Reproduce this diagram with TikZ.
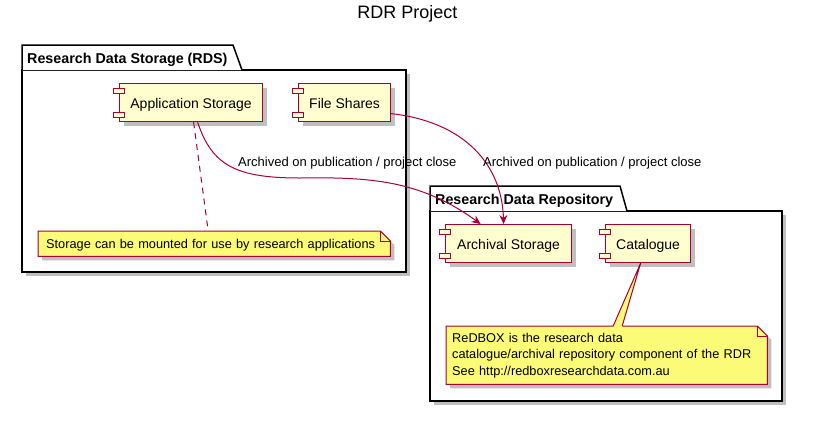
\documentclass[tikz,border=0pt]{standalone}
\usepackage{fontspec}
\setmainfont{Liberation Sans}
\usetikzlibrary{arrows.meta,shadows}
\definecolor{compfill}{HTML}{FEFECE}
\definecolor{umlred}{HTML}{A80036}
\definecolor{notefill}{HTML}{FBFB77}
\pgfdeclarelayer{pkglayer}
\pgfdeclarelayer{notelayer}
\pgfsetlayers{pkglayer,notelayer,main}
\begin{document}
\begin{tikzpicture}[x=1pt,y=-1pt,
  shd/.style={drop shadow={shadow xshift=4pt,shadow yshift=-4pt,opacity=.25,fill=black}},
  comp/.style={draw=umlred, fill=compfill, line width=1.2pt, minimum height=38pt,
    inner sep=0pt, text height=12pt, text depth=0pt,
    font=\fontsize{14}{16}\selectfont, anchor=north west, shd},
  tabrect/.style={draw=umlred, fill=compfill, line width=1pt},
  pkg/.style={draw=black, line width=1.5pt, fill=white},
  pkgtitle/.style={font=\bfseries\fontsize{14.3}{16}\selectfont, anchor=base west, inner sep=0pt},
  note/.style={anchor=north west, inner ysep=0pt, align=left, font=\fontsize{12.75}{16.5}\selectfont},
  noteshape/.style={draw=umlred, fill=notefill, line width=1pt},
  link/.style={draw=umlred, line width=1pt},
  arr/.style={link, -{Stealth[length=9pt,width=8pt,inset=3pt]}},
  lbl/.style={font=\fontsize{13}{15}\selectfont, anchor=base west, inner sep=0pt},
]
\useasboundingbox (0,0) rectangle (816,426);

% title
\node[font=\fontsize{18}{20}\selectfont, inner sep=0pt, anchor=base] (title) at (407.5,18) {RDR Project};

% package titles
\node[pkgtitle] (rdsT) at (27,63) {Research Data Storage (RDS)};
\node[pkgtitle] (rdrT) at (435,204) {Research Data Repository};

% components
\node[comp, minimum width=143pt] (app) at (119,83) {Application Storage};
\node[comp, minimum width=92pt] (fs) at (298,83) {File Shares};
\node[comp, minimum width=126pt] (arch) at (445,224) {Archival Storage};
\node[comp, minimum width=85pt] (cat) at (605,224) {Catalogue};
\foreach \n in {app,fs,arch,cat}{
  \draw[tabrect] ([shift={(-6,5)}]\n.north west) rectangle ++(11,5);
  \draw[tabrect] ([shift={(-6,-10)}]\n.south west) rectangle ++(11,5);
}

% notes
\node[note, text width=336pt, inner xsep=8pt, minimum height=25pt, text height=9.5pt, text depth=0pt] (n1) at (38,231)
  {Storage can be mounted for use by research applications};
\node[note, text width=309pt, inner xsep=6pt, minimum height=58pt] (n2) at (446,326)
  {ReDBOX is the research data\\catalogue/archival repository component of the RDR\\See http://redboxresearchdata.com.au};

\begin{pgfonlayer}{pkglayer}
  \path[pkg, shd] (22,70) rectangle (406,272);
  \draw[pkg] (22,70) -- (22,45) -- (233,45) -- (242,70);
  \path[pkg, shd] (430,211) rectangle (782,401);
  \draw[pkg] (430,211) -- (430,186) -- (620,186) -- (627,211);
\end{pgfonlayer}

\begin{pgfonlayer}{notelayer}
  \foreach \n in {n1,n2}{
    \path[noteshape, shd] (\n.north west) -- ([xshift=-10pt]\n.north east)
      -- ([yshift=-10pt]\n.north east) -- (\n.south east) -- (\n.south west) -- cycle;
    \draw[noteshape, fill=none] ([xshift=-10pt]\n.north east) |- ([yshift=-10pt]\n.north east);
  }
  \coordinate (wa) at ([xshift=6.5pt]n2.north);
  \coordinate (wb) at ([xshift=-7.5pt]cat.south);
  \coordinate (wc) at ([xshift=15.5pt]n2.north);
  \fill[notefill] ([yshift=-1.5pt]wa) -- (wb) -- ([yshift=-1.5pt]wc) -- cycle;
  \draw[link] (wa) -- (wb) -- (wc);
\end{pgfonlayer}

% connectors
\draw[link, dash pattern=on 6pt off 5pt] ([xshift=2.5pt]app.south) -- ([xshift=-6pt]n1.north);
\draw[arr] ([xshift=6.5pt]app.south) .. controls (212,165) and (235,178) .. (300,178)
  .. controls (370,177) and (420,180) .. ([xshift=-28pt]arch.north);
\draw[arr] ([yshift=-11pt]fs.east) .. controls (465,122) and (502,165) .. ([xshift=-5pt]arch.north);

% labels
\node[lbl] (l1) at (238,166) {Archived on publication / project close};
\node[lbl] (l2) at (483,166) {Archived on publication / project close};
\end{tikzpicture}
\end{document}
